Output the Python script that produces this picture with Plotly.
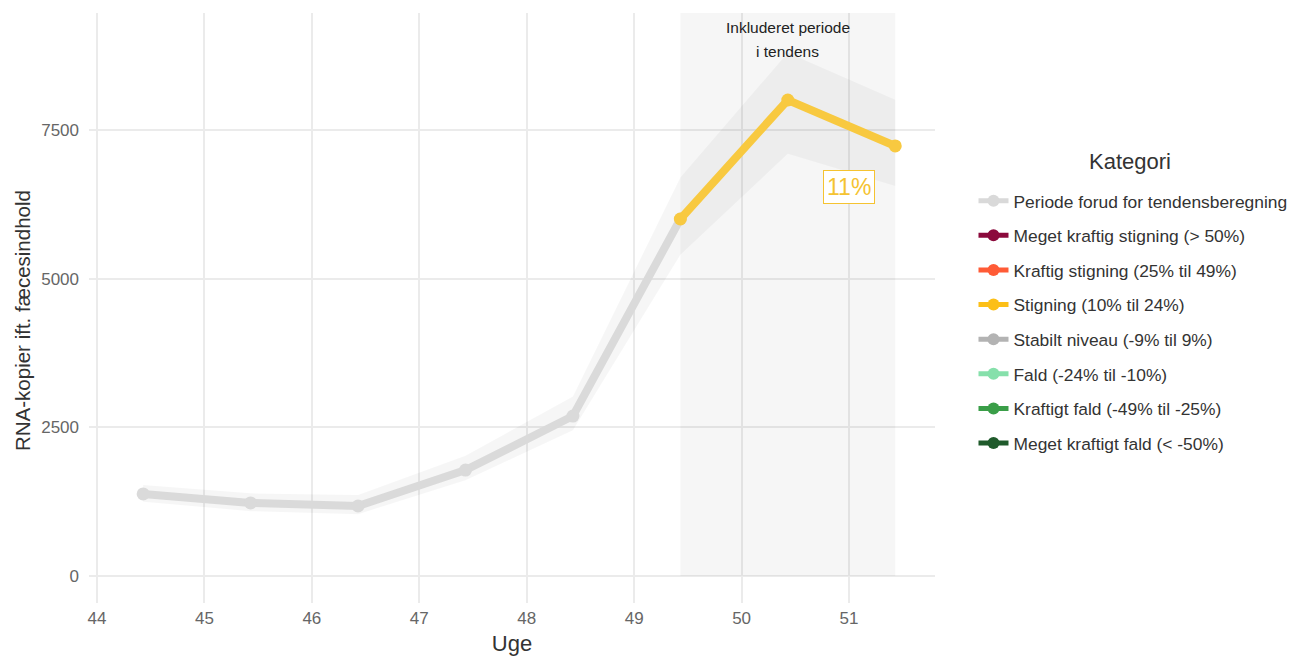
import plotly.graph_objects as go

# Data
weeks = [44.43, 45.43, 46.43, 47.43, 48.43, 49.43, 50.43, 51.43]
values = [1380, 1228, 1177, 1782, 2690, 6003, 8004, 7231]
lower = [1250, 1090, 1040, 1610, 2450, 5400, 7100, 6560]
upper = [1530, 1390, 1360, 2020, 3020, 6700, 8800, 8010]
n_pre = 6  # points before the trend period (incl. first trend point)

categories = [
    "Periode forud for tendensberegning",
    "Meget kraftig stigning (> 50%)",
    "Kraftig stigning (25% til 49%)",
    "Stigning (10% til 24%)",
    "Stabilt niveau (-9% til 9%)",
    "Fald (-24% til -10%)",
    "Kraftigt fald (-49% til -25%)",
    "Meget kraftigt fald (< -50%)",
]
cat_colors = ["#d9d9d9", "#8b0a3c", "#ff5b36", "#fcbf17", "#b3b3b3",
              "#86e0ab", "#3a9e48", "#1f5a2b"]

trend_label = "11%"
trend_label_pos = (51.0, 6541)
period_label_lines = ["Inkluderet periode", "i tendens"]
period_label_y = [9215, 8828]
period_label_x = 50.43
period_start, period_end = 49.43, 51.43
period_top = 9467

x_ticks = [44, 45, 46, 47, 48, 49, 50, 51]
y_ticks = [0, 2500, 5000, 7500]

FONT = "Liberation Sans"
grey_line = "#dadada"
yellow_line = "#f8c940"

fig = go.Figure()

# confidence ribbon
fig.add_trace(go.Scatter(
    x=weeks + weeks[::-1], y=upper + lower[::-1],
    fill="toself", fillcolor="rgba(0,0,0,0.035)", line=dict(width=0),
    mode="lines", hoverinfo="skip", showlegend=False))

# pre-trend line
fig.add_trace(go.Scatter(
    x=weeks[:n_pre], y=values[:n_pre], mode="lines+markers",
    line=dict(color=grey_line, width=8), marker=dict(color=grey_line, size=13),
    showlegend=False))

# trend line
fig.add_trace(go.Scatter(
    x=weeks[n_pre - 1:], y=values[n_pre - 1:], mode="lines+markers",
    line=dict(color=yellow_line, width=8), marker=dict(color=yellow_line, size=13),
    showlegend=False))

# legend entries
for i, (name, col) in enumerate(zip(categories, cat_colors)):
    fig.add_trace(go.Scatter(
        x=[None], y=[None], mode="lines+markers", name=name,
        line=dict(color=col, width=7), marker=dict(color=col, size=13),
        legendgroup=f"g{i}", showlegend=True))

fig.add_shape(type="rect", xref="x", yref="y", x0=period_start, x1=period_end,
              y0=0, y1=period_top, fillcolor="rgba(0,0,0,0.035)", line=dict(width=0),
              layer="between")

for txt, yy in zip(period_label_lines, period_label_y):
    fig.add_annotation(x=period_label_x, y=yy, xref="x", yref="y", text=txt,
                       showarrow=False, yanchor="middle",
                       font=dict(family=FONT, size=15.5, color="#222222"))

fig.add_annotation(x=trend_label_pos[0], y=trend_label_pos[1], xref="x", yref="y",
                   text=trend_label, showarrow=False,
                   font=dict(family=FONT, size=23, color="#f5c331"),
                   bgcolor="white", bordercolor="#f5c331", borderwidth=1, borderpad=3)

# legend title
fig.add_annotation(x=1.2305, y=0.7475, xref="paper", yref="paper", text="Kategori",
                   showarrow=False, xanchor="center", yanchor="middle",
                   font=dict(family=FONT, size=22, color="#333333"))

# y axis title
fig.add_annotation(x=(14 - 81) / 846, y=1 - (313 - 5) / 590, xref="paper", yref="paper",
                   text="RNA-kopier ift. fæcesindhold",
                   showarrow=False, textangle=-90, xanchor="center", yanchor="middle",
                   font=dict(family=FONT, size=20.5, color="#333333"))

fig.update_layout(
    width=1291, height=648,
    margin=dict(l=81, r=364, t=5, b=53),
    paper_bgcolor="white", plot_bgcolor="white",
    font=dict(family=FONT, color="#333333"),
    legend=dict(
        font=dict(family=FONT, size=17.4, color="#333333"),
        x=1.0455, xanchor="left", y=0.712, yanchor="top",
        tracegroupgap=9, itemsizing="constant",
        bgcolor="rgba(0,0,0,0)"),
    xaxis=dict(
        range=[43.926, 51.80], tickmode="array", tickvals=x_ticks,
        showgrid=True, gridcolor="#ebebeb", gridwidth=1.5, zeroline=False,
        showline=False, ticks="", ticklabelstandoff=3,
        tickfont=dict(family=FONT, size=17, color="#666666"),
        title=dict(text="Uge", font=dict(family=FONT, size=22, color="#333333"), standoff=9)),
    yaxis=dict(
        range=[-454, 9467], tickmode="array", tickvals=y_ticks,
        showgrid=True, gridcolor="#ebebeb", gridwidth=1.5, zeroline=False,
        showline=False, ticks="", ticklabelstandoff=9,
        tickfont=dict(family=FONT, size=17, color="#666666")),
)

fig.write_html("out.html")
